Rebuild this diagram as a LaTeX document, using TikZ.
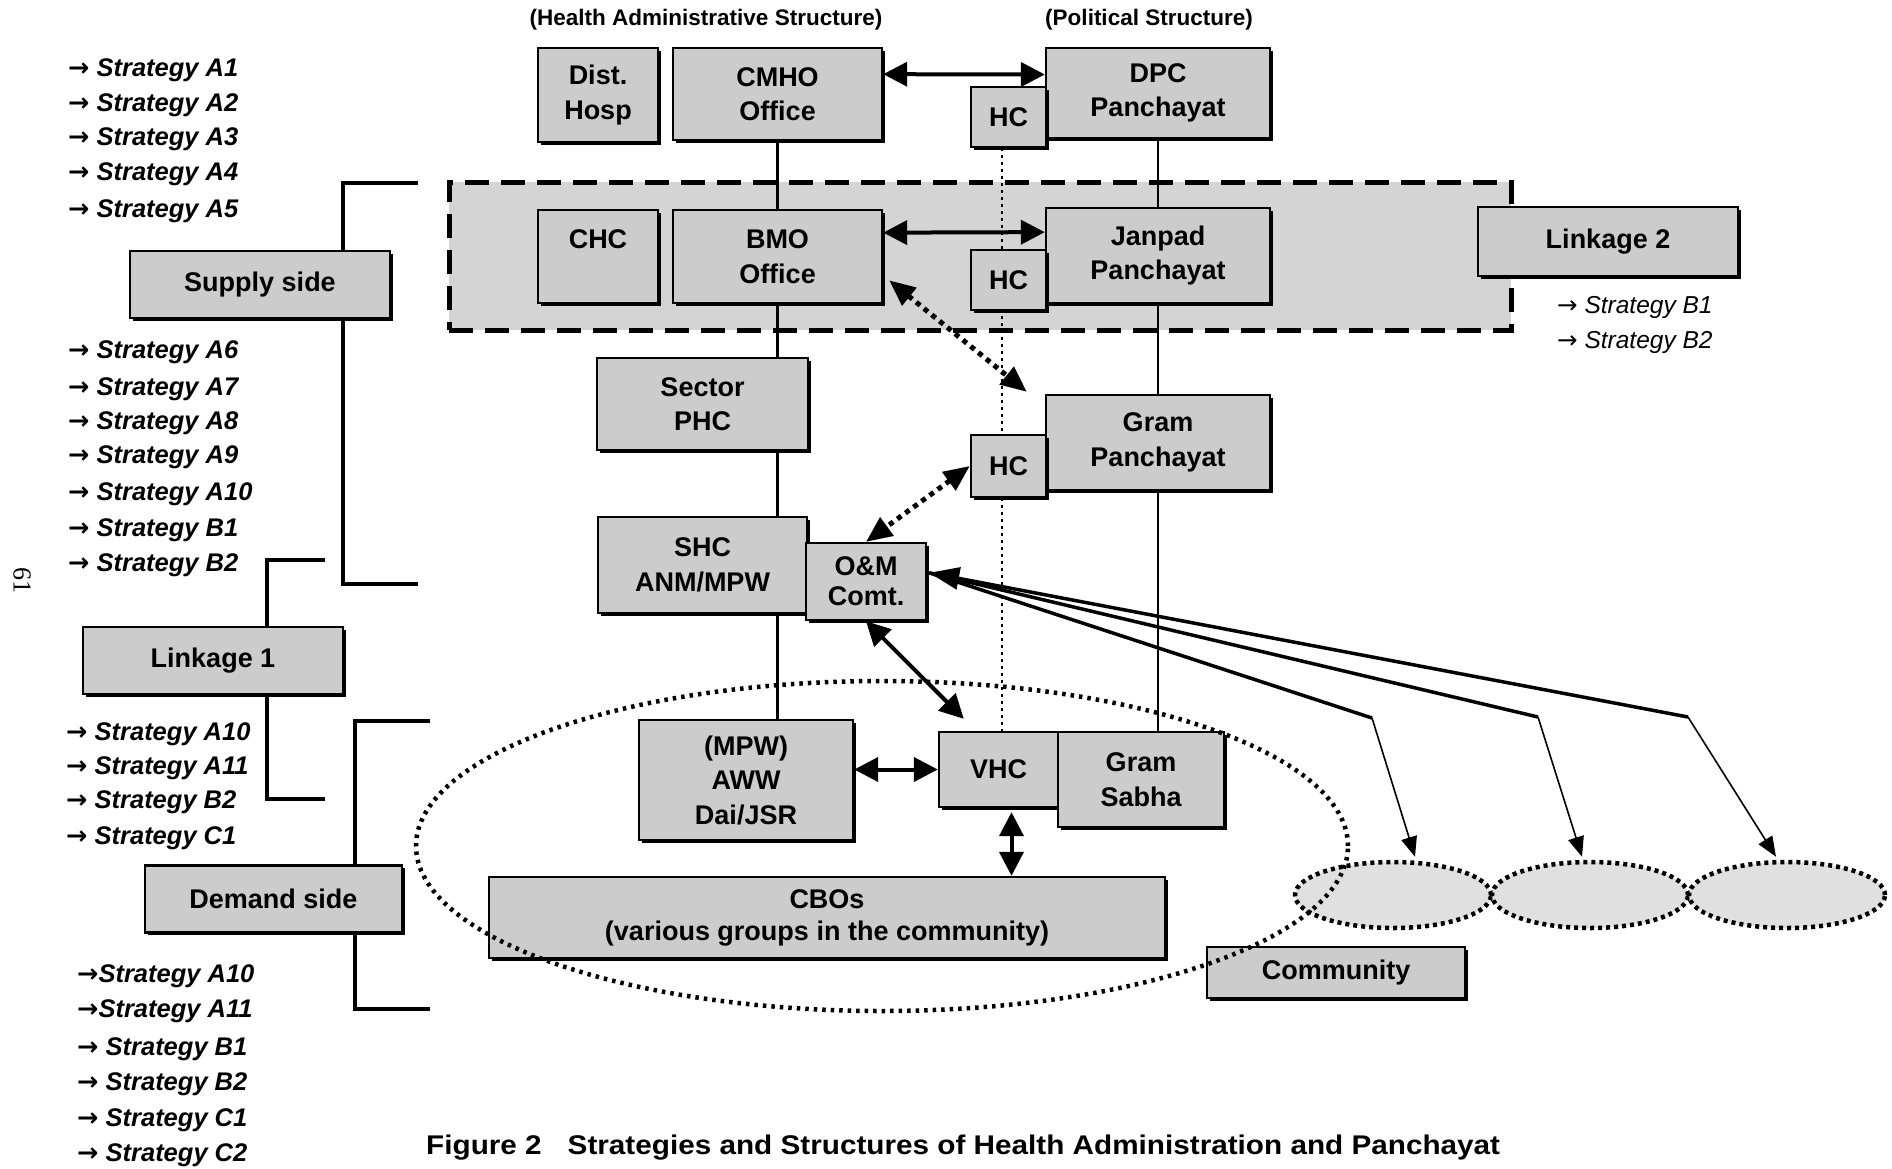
\documentclass[tikz,border=0pt]{standalone}
\usepackage{fontspec}
\setmainfont{Liberation Sans}
\newfontfamily\arrowfont{DejaVu Sans}
\newfontfamily\capfont[FakeStretch=1.1]{Liberation Sans}
\newfontfamily\pgfont{Liberation Serif}
\usetikzlibrary{arrows.meta,shapes.geometric,calc,shadows}
\definecolor{boxgray}{gray}{0.80}
\definecolor{zonegray}{gray}{0.83}
\definecolor{ellgray}{gray}{0.88}
\pgfdeclarelayer{bottom}
\pgfdeclarelayer{bg}
\pgfsetlayers{bottom,bg,main}
\newcommand{\boxfnt}{\bfseries\fontsize{27}{34.5}\selectfont}
\newcommand{\stratfnt}{\bfseries\itshape\fontsize{25.5}{29}\selectfont}
\newcommand{\sarr}{{\arrowfont →}}
\begin{document}
\begin{tikzpicture}[x=1pt,y=-1pt,
  box/.style={draw=black, line width=2.4pt, fill=boxgray, inner sep=0pt, align=center, font=\boxfnt,
    drop shadow={shadow xshift=2.5pt, shadow yshift=-2.5pt, fill=black, opacity=1}},
  zonebox/.style={draw=black, line width=5pt, dash pattern=on 24pt off 12pt, fill=zonegray, inner sep=0pt},
  conn/.style={line width=2.5pt},
  brk/.style={line width=3.5pt},
  hcline/.style={line width=2pt, dash pattern=on 3pt off 4pt},
  dbl/.style={line width=4pt, {Triangle[length=24pt,width=24pt]}-{Triangle[length=24pt,width=24pt]}},
  dotarr/.style={line width=5pt, dash pattern=on 5pt off 5pt, {Triangle[length=26pt,width=22pt]}-{Triangle[length=26pt,width=22pt]}},
  feed/.style={line width=3.5pt},
  thinarr/.style={line width=1.6pt, -{Triangle[length=20pt,width=16pt]}},
  sell/.style={ellipse, draw=black, line width=4.5pt, dash pattern=on 4pt off 4pt, fill=ellgray, minimum width=196, minimum height=66, inner sep=0pt},
  bigell/.style={ellipse, draw=black, line width=4.5pt, dash pattern=on 3.5pt off 5pt, minimum width=932, minimum height=330, inner sep=0pt},
  strat/.style={anchor=base west, inner sep=0pt, font=\stratfnt},
  rstrat/.style={anchor=base west, inner sep=0pt, font=\itshape\fontsize{24.5}{28}\selectfont},
  head/.style={inner sep=0pt, font=\bfseries\fontsize{22.5}{26}\selectfont}
]
\begin{pgfonlayer}{bottom}
\fill[white] (0,0) rectangle (1892,1168);
\node[zonebox, minimum width=1062, minimum height=148] (zone) at (980,256) {};
\end{pgfonlayer}
\useasboundingbox (0,0) rectangle (1892,1168);

% headers
\node[head] (hhead) at (706,20) {(Health Administrative Structure)};
\node[head] (phead) at (1149,20) {(Political Structure)};

% boxes
\node[box, minimum width=120, minimum height=94] (disth) at (598,95) {Dist.\\Hosp};
\node[box, minimum width=209, minimum height=92] (cmho) at (777.5,94) {CMHO\\Office};
\node[box, minimum width=224, minimum height=90] (dpc) at (1158,93) {DPC\\Panchayat};
\node[box, minimum width=75, minimum height=60] (hc1) at (1008.5,117) {HC};
\node[box, minimum width=120, minimum height=93] (chc) at (598,256.5) {CHC\\\phantom{Office}};
\node[box, minimum width=209, minimum height=93] (bmo) at (777.5,256.5) {BMO\\Office};
\node[box, minimum width=224, minimum height=95] (janpad) at (1158,255.5) {Janpad\\Panchayat};
\node[box, minimum width=75, minimum height=60] (hc2) at (1008.5,280) {HC};
\node[box, minimum width=211, minimum height=92] (sector) at (702.5,404) {Sector\\PHC};
\node[box, minimum width=224, minimum height=95] (gram) at (1158,442.5) {Gram\\Panchayat};
\node[box, minimum width=75, minimum height=62] (hc3) at (1008.5,466) {HC};
\node[box, minimum width=209, minimum height=96] (shc) at (702.5,565) {SHC\\ANM/MPW};
\node[box, minimum width=120, minimum height=77, font=\bfseries\fontsize{27}{30}\selectfont] (om) at (866,581.5) {O\&M\\Comt.};
\node[box, minimum width=214, minimum height=120] (aww) at (746,780) {(MPW)\\AWW\\Dai/JSR};
\node[box, minimum width=119, minimum height=75] (vhc) at (998.5,769.5) {VHC};
\node[box, minimum width=166, minimum height=95] (gsabha) at (1141,779.5) {Gram\\Sabha};
\node[box, minimum width=676, minimum height=81, font=\bfseries\fontsize{27}{32}\selectfont] (cbos) at (827,917.5) {CBOs\\(various groups in the community)};
\node[box, minimum width=258, minimum height=51] (community) at (1336,972.5) {Community};
\node[box, minimum width=260, minimum height=69] (link2) at (1608,241.5) {Linkage 2};
\node[box, minimum width=260, minimum height=67] (supply) at (260,284.5) {Supply side};
\node[box, minimum width=260, minimum height=67] (link1) at (213,660.5) {Linkage 1};
\node[box, minimum width=257, minimum height=67] (demand) at (273.5,899) {Demand side};

% small ellipses
\node[sell] (e1) at (1393,895) {};
\node[sell] (e2) at (1590,895) {};
\node[sell] (e3) at (1787,895) {};

% vertical connectors and brackets (behind boxes)
\begin{pgfonlayer}{bg}
\draw[conn] (cmho.south) -- (bmo.north);
\draw[conn] (dpc.south) -- (janpad.north);
\draw[conn] (bmo.south) -- (bmo.south |- sector.north);
\draw[conn] (bmo.south |- sector.south) -- (bmo.south |- shc.north);
\draw[conn] (bmo.south |- shc.south) -- (bmo.south |- aww.north);
\draw[conn] (janpad.south) -- (gram.north);
\draw[conn] (gram.south) -- (gram.south |- gsabha.north);
\coordinate (hcx) at ($(hc1.south)+(-7,0)$);
\draw[hcline] (hcx) -- (hcx |- vhc.north);
\coordinate (sbT) at (418,183);
\coordinate (sbC) at (343,584);
\coordinate (sbB) at (418,584);
\draw[brk] (sbT) -| (sbC) -- (sbB);
\coordinate (lbT) at (325,560);
\coordinate (lbC) at (267,799);
\coordinate (lbB) at (325,799);
\draw[brk] (lbT) -| (lbC) -- (lbB);
\coordinate (dbT) at (430,721);
\coordinate (dbC) at (355,1009);
\coordinate (dbB) at (430,1009);
\draw[brk] (dbT) -| (dbC) -- (dbB);
\end{pgfonlayer}

% arrows
\draw[dbl] ($(cmho.north east)!0.29!(cmho.south east)$) -- ($(dpc.north west)!0.3!(dpc.south west)$);
\draw[dbl] ($(bmo.north east)!0.25!(bmo.south east)$) -- ($(janpad.north west)!0.26!(janpad.south west)$);
\draw[dotarr] ($(bmo.north east)!0.75!(bmo.south east)+(6,0)$) -- ($(gram.north west)+(-18,-2)$);
\draw[dotarr] (hc3.west) -- (om.north);
\draw[dbl] (om.south) -- ($(vhc.north west)+(26,-12)$);
\draw[dbl] (aww.east |- vhc.west) -- (vhc.west);
\coordinate (vc) at ($(vhc.south)+(13,4)$);
\draw[dbl] (vc) -- (vc |- cbos.north);

% O&M to community groups
\coordinate (omr) at ($(om.north east)!0.39!(om.south east)+(2,0)$);
\coordinate (b1) at (1372,718);
\coordinate (b2) at (1538,717);
\coordinate (b3) at (1688,717);
\draw[feed] (omr) -- (b1);
\draw[feed] (omr) -- (b2);
\draw[feed, {Triangle[length=30pt,width=22pt]}-] (omr) -- (b3);
\draw[thinarr] (b1) -- ($(e1.north)+(22,-3)$);
\draw[thinarr] (b2) -- ($(e2.north)+(-8,-3)$);
\draw[thinarr] (b3) -- ($(e3.north)+(-11,-3)$);

% community ellipse
\node[bigell] (commell) at (882,846) {};

% strategy lists
\foreach \t/\y [count=\i] in {A1/68,A2/103,A3/137,A4/172,A5/209}
  \node[strat] (ga\i) at (68,\y+8) {\sarr\ Strategy \t};
\foreach \t/\y [count=\i] in {A6/350,A7/387,A8/421,A9/455,A10/492,B1/528,B2/563}
  \node[strat] (gb\i) at (68,\y+8) {\sarr\ Strategy \t};
\foreach \t/\y [count=\i] in {A10/732,A11/766,B2/800,C1/836}
  \node[strat] (gc\i) at (66,\y+8) {\sarr\ Strategy \t};
\node[strat] (gd1) at (77,974+8) {\sarr Strategy A10};
\node[strat] (gd2) at (77,1009+8) {\sarr Strategy A11};
\foreach \t/\y [count=\i from 3] in {B1/1047,B2/1082,C1/1118,C2/1153}
  \node[strat] (gd\i) at (77,\y+8) {\sarr\ Strategy \t};
\node[rstrat] (r1) at (1557,305+8) {\sarr\ Strategy B1};
\node[rstrat] (r2) at (1557,340+8) {\sarr\ Strategy B2};

% page number
\node[rotate=-90, font=\pgfont\fontsize{26}{30}\selectfont] (pgno) at (22,580) {61};

% caption
\node[anchor=base west, inner sep=0pt, font=\capfont\bfseries\fontsize{27}{32}\selectfont] (cap) at (426,1154) {Figure 2\hspace{26pt}Strategies and Structures of Health Administration and Panchayat};
\end{tikzpicture}
\end{document}
